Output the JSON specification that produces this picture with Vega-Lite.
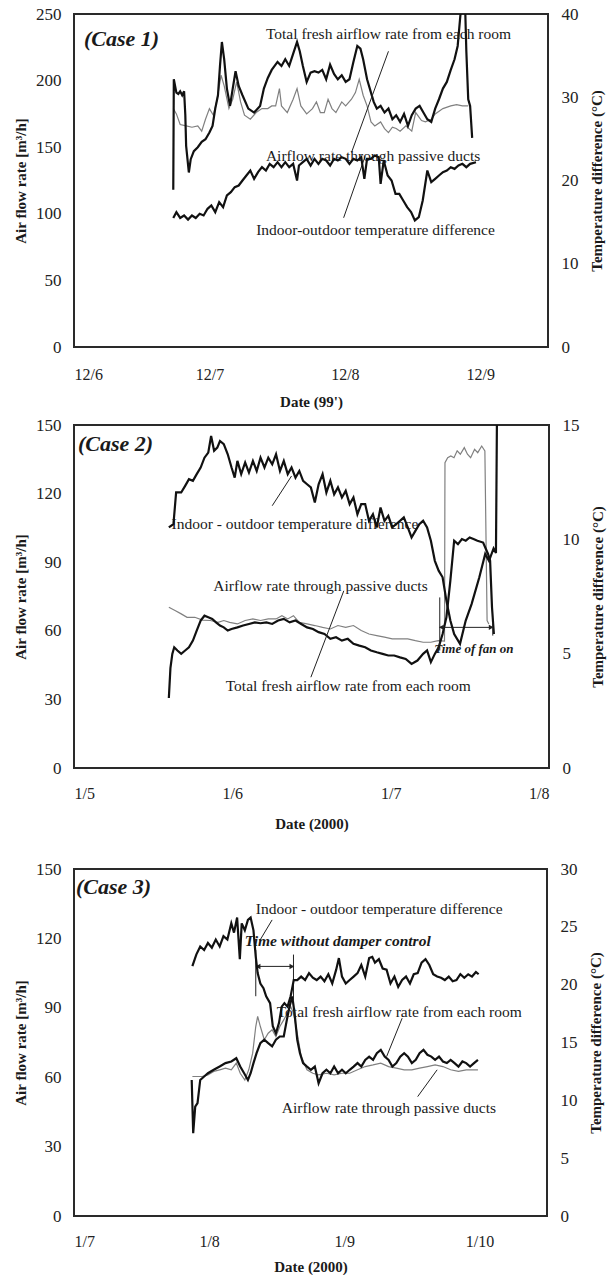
{
"$schema": "https://vega.github.io/schema/vega-lite/v6.json",
"background": "white",
"padding": {"left": 12, "top": 4, "right": 2, "bottom": 0},
"spacing": 5,
"config": {
  "view": {"stroke": "#2a2a2a", "strokeWidth": 2},
  "axis": {"grid": false, "ticks": false, "domain": false, "labelFont": "Liberation Serif", "labelFontSize": 16, "labelColor": "#222", "titleFont": "Liberation Serif", "titleFontSize": 15, "titleFontWeight": "bold", "titleColor": "#1a1a1a"},
  "axisY": {"labelFontSize": 17},
  "text": {"font": "Liberation Serif", "color": "#1a1a1a"},
  "title": {"font": "Liberation Serif"}
},
"datasets": {
  "c1_total": [
    {"day":6.733,"flow":118},{"day":6.737,"flow":201},{"day":6.756,"flow":191},{"day":6.770,"flow":190},{"day":6.784,"flow":192},{"day":6.799,"flow":189},{"day":6.813,"flow":192},{"day":6.822,"flow":174},{"day":6.828,"flow":151},{"day":6.848,"flow":131},{"day":6.862,"flow":141},{"day":6.885,"flow":147},{"day":6.914,"flow":150},{"day":6.943,"flow":154},{"day":6.971,"flow":156},{"day":7.000,"flow":161},{"day":7.023,"flow":166},{"day":7.043,"flow":179},{"day":7.063,"flow":189},{"day":7.078,"flow":211},{"day":7.092,"flow":229},{"day":7.109,"flow":216},{"day":7.129,"flow":194},{"day":7.152,"flow":181},{"day":7.172,"flow":194},{"day":7.193,"flow":207},{"day":7.216,"flow":196},{"day":7.244,"flow":189},{"day":7.287,"flow":179},{"day":7.330,"flow":176},{"day":7.374,"flow":181},{"day":7.402,"flow":194},{"day":7.431,"flow":202},{"day":7.460,"flow":208},{"day":7.503,"flow":214},{"day":7.532,"flow":211},{"day":7.560,"flow":216},{"day":7.589,"flow":211},{"day":7.618,"flow":220},{"day":7.647,"flow":229},{"day":7.667,"flow":222},{"day":7.690,"flow":211},{"day":7.718,"flow":199},{"day":7.747,"flow":206},{"day":7.776,"flow":207},{"day":7.805,"flow":206},{"day":7.833,"flow":208},{"day":7.862,"flow":201},{"day":7.891,"flow":212},{"day":7.920,"flow":205},{"day":7.948,"flow":201},{"day":7.977,"flow":204},{"day":8.006,"flow":199},{"day":8.034,"flow":201},{"day":8.063,"flow":214},{"day":8.092,"flow":226},{"day":8.115,"flow":224},{"day":8.135,"flow":216},{"day":8.164,"flow":201},{"day":8.193,"flow":191},{"day":8.213,"flow":184},{"day":8.236,"flow":179},{"day":8.264,"flow":181},{"day":8.293,"flow":176},{"day":8.322,"flow":179},{"day":8.351,"flow":171},{"day":8.379,"flow":174},{"day":8.408,"flow":169},{"day":8.437,"flow":175},{"day":8.466,"flow":166},{"day":8.494,"flow":174},{"day":8.523,"flow":179},{"day":8.552,"flow":181},{"day":8.580,"flow":176},{"day":8.609,"flow":171},{"day":8.638,"flow":169},{"day":8.667,"flow":179},{"day":8.695,"flow":186},{"day":8.724,"flow":194},{"day":8.753,"flow":199},{"day":8.782,"flow":208},{"day":8.810,"flow":216},{"day":8.833,"flow":226},{"day":8.853,"flow":249},{"day":8.868,"flow":258},{"day":8.888,"flow":256},{"day":8.897,"flow":222},{"day":8.911,"flow":186},{"day":8.925,"flow":181},{"day":8.940,"flow":157}
  ],
  "c1_passive": [
    {"day":6.733,"flow":179},{"day":6.756,"flow":175},{"day":6.784,"flow":167},{"day":6.828,"flow":166},{"day":6.871,"flow":165},{"day":6.914,"flow":166},{"day":6.943,"flow":162},{"day":6.971,"flow":171},{"day":7.000,"flow":179},{"day":7.029,"flow":174},{"day":7.057,"flow":186},{"day":7.086,"flow":204},{"day":7.109,"flow":196},{"day":7.144,"flow":179},{"day":7.172,"flow":186},{"day":7.201,"flow":199},{"day":7.230,"flow":184},{"day":7.259,"flow":174},{"day":7.302,"flow":171},{"day":7.345,"flow":176},{"day":7.388,"flow":179},{"day":7.431,"flow":179},{"day":7.460,"flow":181},{"day":7.489,"flow":181},{"day":7.517,"flow":194},{"day":7.532,"flow":181},{"day":7.575,"flow":176},{"day":7.618,"flow":186},{"day":7.647,"flow":194},{"day":7.675,"flow":181},{"day":7.718,"flow":175},{"day":7.761,"flow":179},{"day":7.790,"flow":184},{"day":7.819,"flow":176},{"day":7.848,"flow":176},{"day":7.876,"flow":186},{"day":7.905,"flow":179},{"day":7.934,"flow":176},{"day":7.977,"flow":184},{"day":8.006,"flow":181},{"day":8.049,"flow":186},{"day":8.078,"flow":191},{"day":8.106,"flow":201},{"day":8.135,"flow":189},{"day":8.164,"flow":181},{"day":8.193,"flow":169},{"day":8.221,"flow":166},{"day":8.264,"flow":169},{"day":8.293,"flow":164},{"day":8.322,"flow":161},{"day":8.351,"flow":165},{"day":8.379,"flow":164},{"day":8.408,"flow":162},{"day":8.451,"flow":166},{"day":8.494,"flow":162},{"day":8.523,"flow":176},{"day":8.566,"flow":170},{"day":8.595,"flow":169},{"day":8.638,"flow":171},{"day":8.667,"flow":175},{"day":8.724,"flow":179},{"day":8.782,"flow":181},{"day":8.825,"flow":182},{"day":8.868,"flow":181},{"day":8.911,"flow":181}
  ],
  "c1_temp": [
    {"day":6.733,"temp":15.5},{"day":6.756,"temp":16.2},{"day":6.784,"temp":15.5},{"day":6.813,"temp":15.8},{"day":6.842,"temp":15.3},{"day":6.871,"temp":15.8},{"day":6.899,"temp":15.5},{"day":6.928,"temp":16.0},{"day":6.957,"temp":15.8},{"day":6.986,"temp":16.6},{"day":7.014,"temp":17.0},{"day":7.043,"temp":16.2},{"day":7.072,"temp":17.4},{"day":7.101,"temp":16.8},{"day":7.129,"temp":18.2},{"day":7.158,"temp":18.6},{"day":7.187,"temp":19.2},{"day":7.216,"temp":19.4},{"day":7.244,"temp":20.0},{"day":7.273,"temp":20.6},{"day":7.302,"temp":21.2},{"day":7.330,"temp":20.2},{"day":7.359,"temp":21.0},{"day":7.388,"temp":21.6},{"day":7.417,"temp":21.2},{"day":7.445,"temp":22.0},{"day":7.474,"temp":21.6},{"day":7.503,"temp":22.2},{"day":7.532,"temp":21.6},{"day":7.560,"temp":22.2},{"day":7.589,"temp":21.6},{"day":7.618,"temp":22.0},{"day":7.647,"temp":20.0},{"day":7.661,"temp":21.8},{"day":7.690,"temp":22.2},{"day":7.718,"temp":22.6},{"day":7.747,"temp":21.8},{"day":7.776,"temp":22.6},{"day":7.805,"temp":22.0},{"day":7.833,"temp":22.6},{"day":7.862,"temp":22.4},{"day":7.891,"temp":21.8},{"day":7.920,"temp":22.6},{"day":7.948,"temp":22.4},{"day":7.977,"temp":22.8},{"day":8.006,"temp":22.6},{"day":8.034,"temp":22.0},{"day":8.063,"temp":22.6},{"day":8.092,"temp":22.4},{"day":8.121,"temp":22.8},{"day":8.144,"temp":20.2},{"day":8.164,"temp":22.6},{"day":8.193,"temp":22.6},{"day":8.221,"temp":23.0},{"day":8.250,"temp":22.8},{"day":8.264,"temp":19.6},{"day":8.287,"temp":22.4},{"day":8.316,"temp":20.6},{"day":8.345,"temp":20.0},{"day":8.374,"temp":18.4},{"day":8.402,"temp":18.4},{"day":8.431,"temp":17.6},{"day":8.460,"temp":16.8},{"day":8.489,"temp":16.2},{"day":8.517,"temp":15.2},{"day":8.546,"temp":15.6},{"day":8.575,"temp":17.6},{"day":8.609,"temp":21.2},{"day":8.638,"temp":19.8},{"day":8.667,"temp":20.2},{"day":8.695,"temp":20.6},{"day":8.724,"temp":21.0},{"day":8.753,"temp":21.2},{"day":8.782,"temp":21.6},{"day":8.810,"temp":21.4},{"day":8.839,"temp":21.8},{"day":8.868,"temp":22.0},{"day":8.897,"temp":21.6},{"day":8.925,"temp":22.0},{"day":8.968,"temp":22.2}
  ],
  "c1_notes": [
    {"day":7.417,"flow":235,"label":"Total fresh airflow rate from each room"},
    {"day":7.417,"flow":143.5,"label":"Airflow rate through passive ducts"},
    {"day":7.345,"flow":88,"label":"Indoor-outdoor temperature difference"}
  ],
  "c1_case": [{"day":6.074,"flow":231,"label":"(Case 1)"}],
  "c1_lead": [
    {"day":8.322,"flow":222,"day2":8.049,"flow2":146},
    {"day":7.991,"flow":97,"day2":8.149,"flow2":143}
  ],
  "c2_total": [
    {"day":5.599,"flow":30.6},{"day":5.609,"flow":43.7},{"day":5.621,"flow":49.9},{"day":5.633,"flow":52.8},{"day":5.653,"flow":51.4},{"day":5.677,"flow":49.9},{"day":5.702,"flow":51.4},{"day":5.726,"flow":52.8},{"day":5.751,"flow":55.7},{"day":5.775,"flow":60.1},{"day":5.800,"flow":64.5},{"day":5.824,"flow":66.6},{"day":5.848,"flow":65.9},{"day":5.873,"flow":65.2},{"day":5.897,"flow":63.7},{"day":5.922,"flow":62.3},{"day":5.946,"flow":61.5},{"day":5.971,"flow":60.1},{"day":5.995,"flow":60.8},{"day":6.032,"flow":61.5},{"day":6.068,"flow":62.3},{"day":6.105,"flow":63.0},{"day":6.142,"flow":63.7},{"day":6.178,"flow":63.3},{"day":6.215,"flow":63.7},{"day":6.252,"flow":63.0},{"day":6.289,"flow":64.5},{"day":6.325,"flow":65.2},{"day":6.362,"flow":63.7},{"day":6.399,"flow":64.5},{"day":6.435,"flow":63.0},{"day":6.472,"flow":61.5},{"day":6.509,"flow":60.8},{"day":6.545,"flow":59.4},{"day":6.582,"flow":58.6},{"day":6.619,"flow":56.5},{"day":6.655,"flow":57.2},{"day":6.692,"flow":55.7},{"day":6.729,"flow":56.5},{"day":6.765,"flow":54.3},{"day":6.802,"flow":53.5},{"day":6.839,"flow":52.8},{"day":6.875,"flow":51.4},{"day":6.912,"flow":50.6},{"day":6.949,"flow":49.9},{"day":6.985,"flow":49.2},{"day":7.022,"flow":49.2},{"day":7.059,"flow":48.4},{"day":7.095,"flow":47.7},{"day":7.132,"flow":45.5},{"day":7.169,"flow":47.0},{"day":7.205,"flow":49.9},{"day":7.230,"flow":51.4},{"day":7.254,"flow":46.3},{"day":7.279,"flow":49.9},{"day":7.303,"flow":52.8},{"day":7.328,"flow":58.6},{"day":7.352,"flow":65.9},{"day":7.377,"flow":81.9},{"day":7.401,"flow":99.4},{"day":7.425,"flow":97.9},{"day":7.450,"flow":100.1},{"day":7.474,"flow":99.4},{"day":7.499,"flow":100.8},{"day":7.523,"flow":100.1},{"day":7.548,"flow":99.4},{"day":7.584,"flow":98.6},{"day":7.615,"flow":93.6},{"day":7.628,"flow":90.7},{"day":7.640,"flow":70.3},{"day":7.652,"flow":58.6}
  ],
  "c2_passive": [
    {"day":5.599,"flow":70.3},{"day":5.641,"flow":68.8},{"day":5.677,"flow":67.4},{"day":5.714,"flow":65.9},{"day":5.763,"flow":65.9},{"day":5.812,"flow":64.7},{"day":5.861,"flow":64.5},{"day":5.910,"flow":63.7},{"day":5.946,"flow":64.5},{"day":5.983,"flow":63.7},{"day":6.032,"flow":63.0},{"day":6.081,"flow":64.5},{"day":6.130,"flow":65.2},{"day":6.178,"flow":64.5},{"day":6.227,"flow":65.2},{"day":6.276,"flow":65.2},{"day":6.313,"flow":66.6},{"day":6.350,"flow":65.2},{"day":6.386,"flow":66.6},{"day":6.423,"flow":63.7},{"day":6.472,"flow":63.0},{"day":6.521,"flow":62.3},{"day":6.570,"flow":61.5},{"day":6.619,"flow":60.8},{"day":6.667,"flow":62.3},{"day":6.716,"flow":61.5},{"day":6.765,"flow":62.3},{"day":6.814,"flow":60.1},{"day":6.863,"flow":58.6},{"day":6.912,"flow":57.9},{"day":6.961,"flow":57.2},{"day":7.010,"flow":56.5},{"day":7.059,"flow":56.5},{"day":7.108,"flow":56.5},{"day":7.156,"flow":55.7},{"day":7.205,"flow":55.0},{"day":7.254,"flow":55.0},{"day":7.300,"flow":55.7},{"day":7.340,"flow":55.5},{"day":7.343,"flow":133.5},{"day":7.360,"flow":135.7},{"day":7.380,"flow":136.5},{"day":7.400,"flow":135.7},{"day":7.420,"flow":138.7},{"day":7.440,"flow":137.2},{"day":7.465,"flow":140.1},{"day":7.485,"flow":137.2},{"day":7.505,"flow":135.7},{"day":7.530,"flow":139.4},{"day":7.550,"flow":137.9},{"day":7.575,"flow":140.8},{"day":7.595,"flow":138.7},{"day":7.609,"flow":64.5},{"day":7.620,"flow":63.0}
  ],
  "c2_temp": [
    {"day":5.599,"temp":10.52},{"day":5.628,"temp":10.66},{"day":5.645,"temp":12.05},{"day":5.677,"temp":12.05},{"day":5.702,"temp":12.34},{"day":5.726,"temp":12.63},{"day":5.751,"temp":12.56},{"day":5.775,"temp":12.85},{"day":5.800,"temp":13.14},{"day":5.824,"temp":13.57},{"day":5.848,"temp":13.79},{"day":5.866,"temp":14.52},{"day":5.885,"temp":13.87},{"day":5.905,"temp":14.01},{"day":5.922,"temp":14.30},{"day":5.946,"temp":14.16},{"day":5.971,"temp":13.72},{"day":5.995,"temp":13.14},{"day":6.015,"temp":12.70},{"day":6.032,"temp":13.43},{"day":6.056,"temp":12.85},{"day":6.081,"temp":13.36},{"day":6.105,"temp":12.92},{"day":6.130,"temp":13.43},{"day":6.154,"temp":12.99},{"day":6.178,"temp":13.57},{"day":6.203,"temp":13.14},{"day":6.227,"temp":13.57},{"day":6.252,"temp":13.28},{"day":6.276,"temp":13.72},{"day":6.301,"temp":12.99},{"day":6.325,"temp":13.43},{"day":6.350,"temp":12.85},{"day":6.374,"temp":13.14},{"day":6.399,"temp":12.70},{"day":6.423,"temp":12.99},{"day":6.447,"temp":12.56},{"day":6.472,"temp":12.41},{"day":6.496,"temp":12.27},{"day":6.521,"temp":11.61},{"day":6.545,"temp":12.41},{"day":6.570,"temp":12.85},{"day":6.594,"temp":12.05},{"day":6.619,"temp":12.56},{"day":6.643,"temp":11.97},{"day":6.667,"temp":12.27},{"day":6.692,"temp":11.83},{"day":6.716,"temp":12.12},{"day":6.741,"temp":11.54},{"day":6.765,"temp":11.83},{"day":6.790,"temp":11.10},{"day":6.814,"temp":11.54},{"day":6.839,"temp":11.54},{"day":6.863,"temp":10.81},{"day":6.888,"temp":11.10},{"day":6.912,"temp":10.52},{"day":6.936,"temp":11.39},{"day":6.961,"temp":10.81},{"day":6.985,"temp":11.03},{"day":7.010,"temp":10.52},{"day":7.034,"temp":10.66},{"day":7.059,"temp":10.81},{"day":7.083,"temp":10.96},{"day":7.108,"temp":10.52},{"day":7.132,"temp":10.08},{"day":7.156,"temp":10.37},{"day":7.181,"temp":10.66},{"day":7.205,"temp":10.81},{"day":7.230,"temp":10.52},{"day":7.254,"temp":9.94},{"day":7.279,"temp":9.06},{"day":7.303,"temp":8.63},{"day":7.328,"temp":8.34},{"day":7.352,"temp":7.32},{"day":7.377,"temp":6.45},{"day":7.401,"temp":5.86},{"day":7.438,"temp":5.43},{"day":7.474,"temp":6.45},{"day":7.511,"temp":7.17},{"day":7.560,"temp":8.34},{"day":7.597,"temp":9.36},{"day":7.621,"temp":9.06},{"day":7.650,"temp":9.6},{"day":7.665,"temp":9.4},{"day":7.672,"temp":16}
  ],
  "c2_notes": [
    {"day":5.616,"flow":106.6,"label":"Indoor - outdoor temperature difference"},
    {"day":5.880,"flow":79.7,"label":"Airflow rate through passive ducts"},
    {"day":5.958,"flow":36,"label":"Total fresh airflow rate from each room"}
  ],
  "c2_case": [{"day":5.025,"flow":141.9,"label":"(Case 2)"}],
  "c2_bi": [{"day":7.275,"flow":52,"label":"Time of fan on"}],
  "c2_lead": [
    {"day":6.252,"flow":114.7,"day2":6.374,"flow2":127.7},
    {"day":6.496,"flow":39.7,"day2":6.704,"flow2":77.5},
    {"day":7.31,"flow":74.6,"day2":7.31,"flow2":51.4},
    {"day":7.645,"flow":63.7,"day2":7.645,"flow2":57.9},
    {"day":7.31,"flow":61.5,"day2":7.645,"flow2":61.5}
  ],
  "c2_heads": [
    {"day":7.32,"flow":61.5,"end":"l"},
    {"day":7.635,"flow":61.5,"end":"r"}
  ],
  "c3_total": [
    {"day":7.871,"flow":58.8},{"day":7.882,"flow":35.8},{"day":7.897,"flow":47.3},{"day":7.914,"flow":48.8},{"day":7.934,"flow":58.8},{"day":7.963,"flow":60.3},{"day":7.991,"flow":61.7},{"day":8.034,"flow":63.2},{"day":8.078,"flow":64.6},{"day":8.121,"flow":66.1},{"day":8.164,"flow":66.8},{"day":8.201,"flow":68.2},{"day":8.230,"flow":64.6},{"day":8.259,"flow":61.7},{"day":8.287,"flow":58.8},{"day":8.307,"flow":61.7},{"day":8.328,"flow":66.1},{"day":8.351,"flow":70.4},{"day":8.379,"flow":74.7},{"day":8.408,"flow":76.2},{"day":8.437,"flow":74.7},{"day":8.466,"flow":73.3},{"day":8.494,"flow":76.2},{"day":8.523,"flow":77.6},{"day":8.552,"flow":77.6},{"day":8.575,"flow":84.8},{"day":8.595,"flow":90.6},{"day":8.615,"flow":94.9},{"day":8.632,"flow":87.7},{"day":8.652,"flow":76.2},{"day":8.672,"flow":70.4},{"day":8.695,"flow":66.1},{"day":8.724,"flow":64.6},{"day":8.753,"flow":63.2},{"day":8.782,"flow":64.6},{"day":8.810,"flow":57.4},{"day":8.839,"flow":61.7},{"day":8.868,"flow":63.2},{"day":8.897,"flow":61.7},{"day":8.925,"flow":64.6},{"day":8.954,"flow":61.7},{"day":8.983,"flow":63.2},{"day":9.011,"flow":61.7},{"day":9.040,"flow":63.2},{"day":9.069,"flow":64.6},{"day":9.098,"flow":66.1},{"day":9.126,"flow":64.6},{"day":9.155,"flow":67.5},{"day":9.184,"flow":68.9},{"day":9.213,"flow":67.5},{"day":9.241,"flow":70.4},{"day":9.270,"flow":71.8},{"day":9.299,"flow":68.9},{"day":9.328,"flow":67.5},{"day":9.356,"flow":64.6},{"day":9.385,"flow":66.1},{"day":9.414,"flow":68.9},{"day":9.443,"flow":70.4},{"day":9.471,"flow":68.9},{"day":9.500,"flow":66.1},{"day":9.529,"flow":67.5},{"day":9.557,"flow":70.4},{"day":9.586,"flow":71.8},{"day":9.615,"flow":69.7},{"day":9.644,"flow":68.9},{"day":9.672,"flow":67.5},{"day":9.701,"flow":68.9},{"day":9.730,"flow":66.8},{"day":9.759,"flow":66.1},{"day":9.787,"flow":67.5},{"day":9.816,"flow":66.1},{"day":9.845,"flow":64.6},{"day":9.874,"flow":66.8},{"day":9.902,"flow":66.1},{"day":9.931,"flow":64.6},{"day":9.960,"flow":66.1},{"day":9.989,"flow":67.5}
  ],
  "c3_passive": [
    {"day":7.876,"flow":60.3},{"day":7.948,"flow":60.3},{"day":7.991,"flow":61.0},{"day":8.034,"flow":62.5},{"day":8.078,"flow":63.2},{"day":8.121,"flow":63.9},{"day":8.164,"flow":63.2},{"day":8.201,"flow":66.1},{"day":8.230,"flow":61.7},{"day":8.264,"flow":58.8},{"day":8.293,"flow":63.2},{"day":8.322,"flow":70.4},{"day":8.345,"flow":81.9},{"day":8.359,"flow":86.3},{"day":8.379,"flow":81.9},{"day":8.408,"flow":76.2},{"day":8.437,"flow":79.0},{"day":8.466,"flow":80.5},{"day":8.494,"flow":77.6},{"day":8.523,"flow":81.9},{"day":8.552,"flow":84.8},{"day":8.580,"flow":87.7},{"day":8.603,"flow":90.6},{"day":8.624,"flow":87.7},{"day":8.652,"flow":79.0},{"day":8.681,"flow":68.9},{"day":8.724,"flow":63.2},{"day":8.767,"flow":61.7},{"day":8.810,"flow":61.0},{"day":8.868,"flow":61.7},{"day":8.925,"flow":61.0},{"day":8.983,"flow":61.7},{"day":9.040,"flow":61.7},{"day":9.098,"flow":63.2},{"day":9.155,"flow":64.6},{"day":9.213,"flow":65.3},{"day":9.270,"flow":66.1},{"day":9.328,"flow":64.6},{"day":9.385,"flow":63.9},{"day":9.443,"flow":63.2},{"day":9.500,"flow":63.2},{"day":9.557,"flow":63.9},{"day":9.615,"flow":64.6},{"day":9.672,"flow":65.3},{"day":9.730,"flow":64.6},{"day":9.787,"flow":63.2},{"day":9.845,"flow":62.5},{"day":9.902,"flow":63.2},{"day":9.989,"flow":63.2}
  ],
  "c3_temp": [
    {"day":7.876,"temp":21.6},{"day":7.905,"temp":22.6},{"day":7.934,"temp":23.3},{"day":7.963,"temp":23.0},{"day":7.991,"temp":23.6},{"day":8.020,"temp":23.2},{"day":8.049,"temp":23.9},{"day":8.078,"temp":23.3},{"day":8.106,"temp":24.2},{"day":8.135,"temp":23.9},{"day":8.164,"temp":25.3},{"day":8.184,"temp":24.5},{"day":8.207,"temp":25.8},{"day":8.227,"temp":22.2},{"day":8.241,"temp":25.3},{"day":8.264,"temp":24.7},{"day":8.287,"temp":25.6},{"day":8.307,"temp":25.8},{"day":8.328,"temp":24.7},{"day":8.345,"temp":22.4},{"day":8.359,"temp":21.0},{"day":8.379,"temp":20.1},{"day":8.402,"temp":19.7},{"day":8.422,"temp":19.0},{"day":8.451,"temp":18.4},{"day":8.471,"temp":16.4},{"day":8.494,"temp":15.8},{"day":8.517,"temp":16.7},{"day":8.537,"temp":18.1},{"day":8.557,"temp":18.4},{"day":8.580,"temp":18.1},{"day":8.603,"temp":19.0},{"day":8.626,"temp":20.4},{"day":8.652,"temp":20.4},{"day":8.681,"temp":20.7},{"day":8.710,"temp":20.4},{"day":8.739,"temp":21.0},{"day":8.767,"temp":20.6},{"day":8.796,"temp":20.4},{"day":8.825,"temp":20.7},{"day":8.853,"temp":20.3},{"day":8.882,"temp":20.9},{"day":8.911,"temp":20.1},{"day":8.940,"temp":21.3},{"day":8.960,"temp":22.3},{"day":8.983,"temp":20.7},{"day":9.011,"temp":20.1},{"day":9.040,"temp":20.4},{"day":9.069,"temp":20.7},{"day":9.098,"temp":21.0},{"day":9.126,"temp":21.7},{"day":9.155,"temp":20.7},{"day":9.184,"temp":22.3},{"day":9.207,"temp":22.4},{"day":9.227,"temp":21.9},{"day":9.256,"temp":22.2},{"day":9.284,"temp":21.4},{"day":9.313,"temp":21.3},{"day":9.342,"temp":20.1},{"day":9.371,"temp":20.7},{"day":9.399,"temp":19.8},{"day":9.428,"temp":20.4},{"day":9.457,"temp":20.7},{"day":9.486,"temp":20.1},{"day":9.514,"temp":20.9},{"day":9.543,"temp":21.0},{"day":9.572,"temp":21.9},{"day":9.601,"temp":22.2},{"day":9.629,"temp":21.7},{"day":9.658,"temp":20.9},{"day":9.687,"temp":20.7},{"day":9.716,"temp":20.6},{"day":9.744,"temp":20.4},{"day":9.773,"temp":20.7},{"day":9.802,"temp":20.3},{"day":9.830,"temp":20.4},{"day":9.859,"temp":20.9},{"day":9.888,"temp":20.6},{"day":9.917,"temp":20.9},{"day":9.945,"temp":20.7},{"day":9.974,"temp":21.1},{"day":9.994,"temp":20.9}
  ],
  "c3_notes": [
    {"day":8.345,"flow":132.7,"label":"Indoor - outdoor temperature difference"},
    {"day":8.5,"flow":88,"label":"Total fresh airflow rate from each room"},
    {"day":8.537,"flow":46.6,"label":"Airflow rate through passive ducts"}
  ],
  "c3_case": [{"day":7.015,"flow":142.4,"label":"(Case 3)"}],
  "c3_bi": [{"day":8.264,"flow":118.7,"label":"Time without damper control"}],
  "c3_lead": [
    {"day":8.466,"flow":128,"day2":8.374,"flow2":119},
    {"day":9.428,"flow":85.5,"day2":9.313,"flow2":68.9},
    {"day":9.543,"flow":51.6,"day2":9.687,"flow2":63.2},
    {"day":8.345,"flow":115,"day2":8.345,"flow2":95},
    {"day":8.624,"flow":113,"day2":8.624,"flow2":93},
    {"day":8.351,"flow":107.9,"day2":8.624,"flow2":107.9}
  ],
  "c3_heads": [
    {"day":8.362,"flow":107.9,"end":"l"},
    {"day":8.612,"flow":107.9,"end":"r"}
  ]
},
"vconcat": [
  {
    "width": 474, "height": 333,
    "encoding": {"x": {"field": "day", "type": "quantitative", "scale": {"domain": [6, 9.5], "nice": false, "zero": false}, "axis": {"values": [6, 7, 8, 9], "labelExpr": "'12/' + datum.value", "title": "Date (99')", "labelPadding": 19, "titlePadding": 12}}},
    "layer": [
      {
        "encoding": {"y": {"field": "flow", "type": "quantitative", "scale": {"domain": [0, 250], "nice": false}, "axis": {"orient": "left", "values": [0, 50, 100, 150, 200, 250], "title": "Air flow rate [m³/h]", "labelPadding": 13, "titlePadding": 7}}},
        "layer": [
          {"data": {"name": "c1_passive"}, "mark": {"type": "line", "color": "#808080", "strokeWidth": 1.2, "clip": true}},
          {"data": {"name": "c1_total"}, "mark": {"type": "line", "color": "#111", "strokeWidth": 2.2, "clip": true}},
          {"data": {"name": "c1_lead"}, "mark": {"type": "rule", "color": "#222", "strokeWidth": 1}, "encoding": {"x2": {"field": "day2"}, "y2": {"field": "flow2"}}},
          {"data": {"name": "c1_notes"}, "mark": {"type": "text", "align": "left", "baseline": "middle", "fontSize": 15.5}, "encoding": {"text": {"field": "label"}}},
          {"data": {"name": "c1_case"}, "mark": {"type": "text", "align": "left", "baseline": "middle", "fontSize": 22, "fontWeight": "bold", "fontStyle": "italic"}, "encoding": {"text": {"field": "label"}}}
        ]
      },
      {"data": {"name": "c1_temp"}, "mark": {"type": "line", "color": "#111", "strokeWidth": 2.2, "clip": true},
       "encoding": {"y": {"field": "temp", "type": "quantitative", "scale": {"domain": [0, 40], "nice": false}, "axis": {"orient": "right", "values": [0, 10, 20, 30, 40], "title": "Temperature difference (°C)", "titleAngle": -90, "titleBaseline": "top", "labelPadding": 13, "titlePadding": 11}}}}
    ],
    "resolve": {"scale": {"y": "independent"}}
  },
  {
    "width": 475, "height": 343,
    "encoding": {"x": {"field": "day", "type": "quantitative", "scale": {"domain": [5, 8], "nice": false, "zero": false}, "axis": {"values": [5, 6, 7, 8], "labelExpr": "'1/' + datum.value", "title": "Date (2000)", "labelPadding": 17, "titlePadding": 15}}},
    "layer": [
      {
        "encoding": {"y": {"field": "flow", "type": "quantitative", "scale": {"domain": [0, 150], "nice": false}, "axis": {"orient": "left", "values": [0, 30, 60, 90, 120, 150], "title": "Air flow rate [m³/h]", "labelPadding": 13, "titlePadding": 7}}},
        "layer": [
          {"data": {"name": "c2_passive"}, "mark": {"type": "line", "color": "#808080", "strokeWidth": 1.2, "clip": true}},
          {"data": {"name": "c2_total"}, "mark": {"type": "line", "color": "#111", "strokeWidth": 2.2, "clip": true}},
          {"data": {"name": "c2_lead"}, "mark": {"type": "rule", "color": "#222", "strokeWidth": 1}, "encoding": {"x2": {"field": "day2"}, "y2": {"field": "flow2"}}},
          {"data": {"name": "c2_heads"}, "transform": [{"filter": "datum.end == 'l'"}], "mark": {"type": "point", "shape": "triangle-left", "filled": true, "color": "#222", "size": 30, "opacity": 1}},
          {"data": {"name": "c2_heads"}, "transform": [{"filter": "datum.end == 'r'"}], "mark": {"type": "point", "shape": "triangle-right", "filled": true, "color": "#222", "size": 30, "opacity": 1}},
          {"data": {"name": "c2_notes"}, "mark": {"type": "text", "align": "left", "baseline": "middle", "fontSize": 15.5}, "encoding": {"text": {"field": "label"}}},
          {"data": {"name": "c2_bi"}, "mark": {"type": "text", "align": "left", "baseline": "middle", "fontSize": 13, "fontWeight": "bold", "fontStyle": "italic"}, "encoding": {"text": {"field": "label"}}},
          {"data": {"name": "c2_case"}, "mark": {"type": "text", "align": "left", "baseline": "middle", "fontSize": 22, "fontWeight": "bold", "fontStyle": "italic"}, "encoding": {"text": {"field": "label"}}}
        ]
      },
      {"data": {"name": "c2_temp"}, "mark": {"type": "line", "color": "#111", "strokeWidth": 2.2, "clip": true},
       "encoding": {"y": {"field": "temp", "type": "quantitative", "scale": {"domain": [0, 15], "nice": false}, "axis": {"orient": "right", "values": [0, 5, 10, 15], "title": "Temperature difference (°C)", "titleAngle": -90, "titleBaseline": "top", "labelPadding": 13, "titlePadding": 11}}}}
    ],
    "resolve": {"scale": {"y": "independent"}}
  },
  {
    "title": {"text": " ", "fontSize": 14, "offset": 8},
    "width": 473, "height": 347,
    "encoding": {"x": {"field": "day", "type": "quantitative", "scale": {"domain": [7, 10.5], "nice": false, "zero": false}, "axis": {"values": [7, 8, 9, 10], "labelExpr": "'1/' + datum.value", "title": "Date (2000)", "labelPadding": 17, "titlePadding": 10}}},
    "layer": [
      {
        "encoding": {"y": {"field": "flow", "type": "quantitative", "scale": {"domain": [0, 150], "nice": false}, "axis": {"orient": "left", "values": [0, 30, 60, 90, 120, 150], "title": "Air flow rate [m³/h]", "labelPadding": 13, "titlePadding": 7}}},
        "layer": [
          {"data": {"name": "c3_passive"}, "mark": {"type": "line", "color": "#808080", "strokeWidth": 1.2, "clip": true}},
          {"data": {"name": "c3_total"}, "mark": {"type": "line", "color": "#111", "strokeWidth": 2.2, "clip": true}},
          {"data": {"name": "c3_lead"}, "mark": {"type": "rule", "color": "#222", "strokeWidth": 1}, "encoding": {"x2": {"field": "day2"}, "y2": {"field": "flow2"}}},
          {"data": {"name": "c3_heads"}, "transform": [{"filter": "datum.end == 'l'"}], "mark": {"type": "point", "shape": "triangle-left", "filled": true, "color": "#222", "size": 30, "opacity": 1}},
          {"data": {"name": "c3_heads"}, "transform": [{"filter": "datum.end == 'r'"}], "mark": {"type": "point", "shape": "triangle-right", "filled": true, "color": "#222", "size": 30, "opacity": 1}},
          {"data": {"name": "c3_notes"}, "mark": {"type": "text", "align": "left", "baseline": "middle", "fontSize": 15.5}, "encoding": {"text": {"field": "label"}}},
          {"data": {"name": "c3_bi"}, "mark": {"type": "text", "align": "left", "baseline": "middle", "fontSize": 15.5, "fontWeight": "bold", "fontStyle": "italic"}, "encoding": {"text": {"field": "label"}}},
          {"data": {"name": "c3_case"}, "mark": {"type": "text", "align": "left", "baseline": "middle", "fontSize": 22, "fontWeight": "bold", "fontStyle": "italic"}, "encoding": {"text": {"field": "label"}}}
        ]
      },
      {"data": {"name": "c3_temp"}, "mark": {"type": "line", "color": "#111", "strokeWidth": 2.2, "clip": true},
       "encoding": {"y": {"field": "temp", "type": "quantitative", "scale": {"domain": [0, 30], "nice": false}, "axis": {"orient": "right", "values": [0, 5, 10, 15, 20, 25, 30], "title": "Temperature difference (°C)", "titleAngle": -90, "titleBaseline": "top", "labelPadding": 13, "titlePadding": 11}}}}
    ],
    "resolve": {"scale": {"y": "independent"}}
  }
]
}
